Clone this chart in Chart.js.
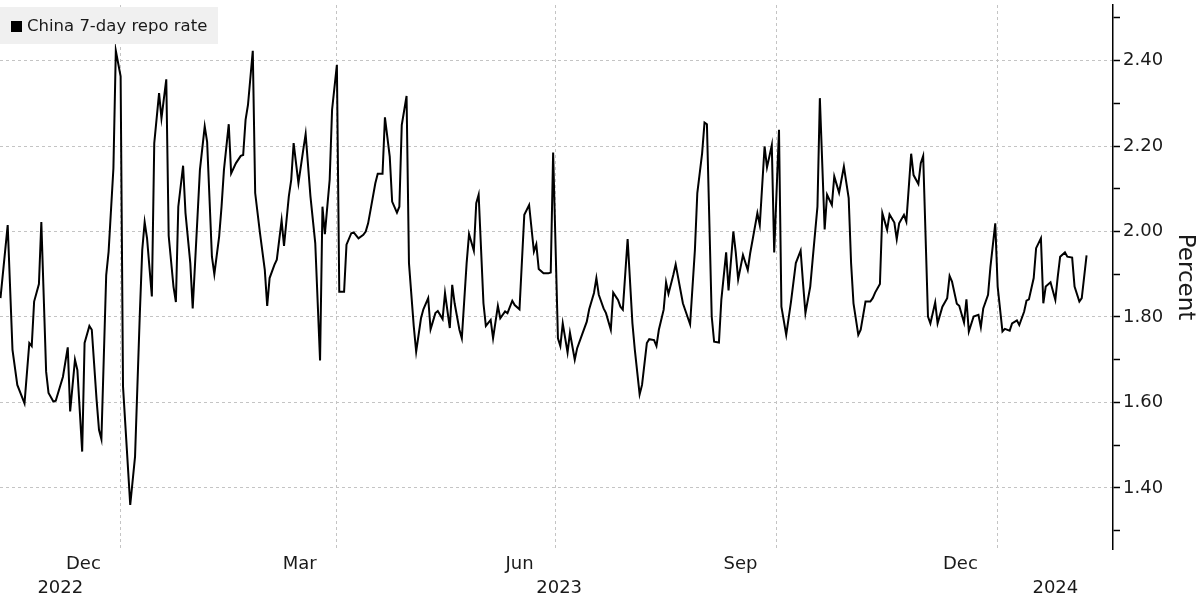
<!DOCTYPE html>
<html>
<head>
<meta charset="utf-8">
<script src="https://cdn.jsdelivr.net/npm/chart.js@4.4.1/dist/chart.umd.min.js"></script>
<style>
html,body{margin:0;padding:0;background:#fff;}
canvas{display:block;}
</style>
</head>
<body>
<canvas id="c" width="1200" height="601"></canvas>
<script>
// ---------------- DATA ----------------
const BASE_DATE = '2023-01-01';           // day offsets are counted from this date
const seriesName = 'China 7-day repo rate';
const axisTitle = 'Percent';

const dayOffsets = [
  -50,-47,-45,-43,-40,-38,-37,-36,-34,-33,-31,-30,-28,-27,-24,-22,-21,-19,-18,-16,
  -15,-13,-12,-10,-9,-8,-6,-5,-3,-2,0,1,4,6,8,9,10,11,13,14,
  16,17,19,20,22,23,24,26,27,29,30,32,33,35,36,38,39,41,42,43,
  45,46,48,50,51,52,53,55,56,58,60,61,62,64,65,67,68,70,71,72,
  74,76,77,79,81,83,84,85,87,88,90,91,93,94,96,97,99,101,102,103,
  104,106,107,109,110,112,113,115,116,117,119,120,122,123,125,126,128,129,131,132,
  134,135,137,138,139,141,142,144,145,147,148,149,151,152,154,155,157,158,160,161,
  163,164,166,168,170,172,173,174,176,178,179,180,182,183,184,186,187,189,190,192,
  194,195,197,198,199,201,202,204,205,207,208,209,211,213,214,216,217,219,220,222,
  223,224,226,227,228,230,231,234,237,239,240,242,243,244,246,247,249,250,252,253,
  255,256,257,259,261,262,263,265,266,268,269,271,272,274,275,277,279,281,283,284,
  285,287,288,290,291,293,294,296,297,299,301,303,304,305,307,308,310,312,313,314,
  316,317,319,320,322,323,324,326,327,329,330,332,333,334,336,337,339,340,342,344,
  345,346,348,349,351,352,353,355,357,358,359,361,362,364,365,367,368,370,371,373,
  374,376,377,378,380,381,383,384,385,387,389,390,391,393,394,396,397,399,400,402
];

const repoRate = [
  1.844,2.015,1.723,1.641,1.598,1.739,1.732,1.836,1.877,2.022,1.672,1.622,1.602,1.604,1.660,1.729,1.579,1.700,1.676,1.485,
  1.739,1.779,1.770,1.606,1.536,1.514,1.898,1.953,2.148,2.423,2.363,1.637,1.360,1.473,1.809,1.957,2.022,1.984,1.848,2.207,
  2.324,2.265,2.356,1.990,1.871,1.835,2.058,2.154,2.043,1.926,1.820,2.035,2.144,2.246,2.210,1.941,1.900,1.988,2.058,2.144,
  2.251,2.136,2.160,2.177,2.179,2.261,2.296,2.423,2.090,1.996,1.910,1.826,1.891,1.922,1.934,2.026,1.966,2.082,2.121,2.207,
  2.113,2.191,2.228,2.082,1.973,1.698,2.058,1.994,2.121,2.285,2.390,1.859,1.859,1.969,1.996,1.998,1.984,1.992,2.000,2.019,
  2.050,2.113,2.135,2.135,2.267,2.175,2.070,2.044,2.058,2.249,2.317,1.926,1.778,1.719,1.797,1.818,1.844,1.771,1.809,1.814,
  1.795,1.856,1.774,1.875,1.832,1.770,1.750,1.926,1.994,1.955,2.066,2.086,1.832,1.779,1.793,1.750,1.826,1.797,1.813,1.809,
  1.838,1.828,1.818,2.039,2.062,1.953,1.970,1.912,1.902,1.902,1.904,2.185,1.750,1.732,1.785,1.717,1.763,1.700,1.727,1.758,
  1.789,1.818,1.856,1.891,1.852,1.820,1.809,1.770,1.857,1.840,1.824,1.817,1.982,1.785,1.723,1.619,1.641,1.739,1.748,1.746,
  1.732,1.770,1.817,1.881,1.854,1.898,1.923,1.832,1.783,1.957,2.090,2.183,2.255,2.251,1.801,1.742,1.740,1.840,1.951,1.862,
  2.000,1.951,1.888,1.945,1.910,1.949,1.980,2.043,2.015,2.199,2.150,2.202,1.951,2.238,1.824,1.758,1.836,1.926,1.955,1.879,
  1.809,1.871,1.934,2.058,2.312,2.005,2.086,2.062,2.129,2.091,2.152,2.078,1.926,1.832,1.758,1.770,1.836,1.836,1.844,1.857,
  1.877,2.043,2.004,2.040,2.021,1.982,2.019,2.039,2.023,2.182,2.132,2.111,2.160,2.177,1.801,1.785,1.834,1.785,1.824,1.844,
  1.896,1.883,1.831,1.826,1.787,1.841,1.766,1.801,1.805,1.776,1.820,1.852,1.918,2.019,1.871,1.766,1.772,1.768,1.785,1.792,
  1.781,1.812,1.838,1.841,1.891,1.961,1.984,1.832,1.871,1.881,1.840,1.894,1.941,1.951,1.941,1.939,1.871,1.836,1.844,1.944
];

// x-axis: quarter boundaries (grid lines), month labels, year labels
const boundaryDays   = [0, 90, 181, 273, 365];          // 1 Jan, 1 Apr, 1 Jul, 1 Oct 2023, 1 Jan 2024
const monthLabels    = ['Dec', 'Mar', 'Jun', 'Sep', 'Dec'];
const monthLabelDays = [-15.5, 74.5, 166, 258, 349.5];  // mid-month
const yearLabels     = ['2022', '2023', '2024'];
const yearStartDays  = [-365, 0, 365];
const xMinDay = -50.2, xMaxDay = 413;

// y-axis
const yMin = 1.257, yMax = 2.530;
const yMajorTicks = [1.4, 1.6, 1.8, 2.0, 2.2, 2.4];
const yMinorTicks = [1.3, 1.5, 1.7, 1.9, 2.1, 2.3, 2.5];

// ---------------- BUILD ----------------
const xTickLabel = new Map();
boundaryDays.forEach(d => xTickLabel.set(d, ''));
monthLabelDays.forEach((d, i) => xTickLabel.set(d, monthLabels[i]));
yearStartDays.forEach((d, i) => {
  const a = Math.max(d, xMinDay), b = Math.min(d + 365, xMaxDay);
  xTickLabel.set((a + b) / 2, ['', yearLabels[i]]);
});
const xTickValues = [...xTickLabel.keys()].sort((a, b) => a - b);
const isBoundary = v => boundaryDays.some(b => Math.abs(b - v) < 1e-9);
const isMajorY = v => yMajorTicks.some(m => Math.abs(m - v) < 1e-6);
const yTickValues = [...yMajorTicks, ...yMinorTicks].sort((a, b) => a - b);

const points = dayOffsets.map((d, i) => ({ x: d, y: repoRate[i] }));
const GRID = '#c4c4c4';
const TXT = '#1a1a1a';
const FONT = 'DejaVu Sans';

const bgLegend = {
  id: 'bgLegend',
  beforeDraw(chart) {
    const ctx = chart.ctx;
    ctx.save();
    ctx.fillStyle = '#ffffff';
    ctx.fillRect(0, 0, chart.width, chart.height);
    ctx.fillStyle = '#f0f0f0';
    ctx.fillRect(0, 7, 218, 37);
    ctx.restore();
  },
  afterDatasetsDraw(chart) {
    const ctx = chart.ctx;
    ctx.save();
    ctx.fillStyle = '#f0f0f0';
    ctx.fillRect(0, 7, 218, 37);
    ctx.fillStyle = '#000';
    ctx.fillRect(11, 21, 11, 11);
    ctx.fillStyle = TXT;
    ctx.font = '16.5px "' + FONT + '"';
    ctx.textBaseline = 'middle';
    ctx.textAlign = 'left';
    ctx.fillText(seriesName, 27, 26.5);
    ctx.restore();
  }
};

new Chart(document.getElementById('c'), {
  type: 'line',
  data: {
    datasets: [{
      label: seriesName,
      data: points,
      borderColor: '#000',
      borderWidth: 2,
      pointRadius: 0,
      tension: 0,
      fill: false
    }]
  },
  options: {
    responsive: false,
    animation: false,
    layout: { padding: { top: 5, left: 0, right: 0, bottom: 0 } },
    plugins: { legend: { display: false }, tooltip: { enabled: false } },
    scales: {
      x: {
        type: 'linear',
        position: 'bottom',
        min: xMinDay,
        max: xMaxDay,
        afterBuildTicks: s => { s.ticks = xTickValues.map(v => ({ value: v })); },
        afterFit: s => { s.height = 52; s.paddingLeft = 0; s.paddingRight = 0; },
        ticks: {
          autoSkip: false, maxRotation: 0, minRotation: 0, padding: 4,
          color: TXT,
          font: { family: FONT, size: 18, lineHeight: 1.3 },
          callback: v => xTickLabel.has(v) ? xTickLabel.get(v) : ''
        },
        grid: {
          drawTicks: false,
          lineWidth: 1,
          color: ctx => (ctx.tick && isBoundary(ctx.tick.value)) ? GRID : 'rgba(0,0,0,0)'
        },
        border: { display: false, dash: [3, 3] }
      },
      y: {
        type: 'linear',
        position: 'right',
        min: yMin,
        max: yMax,
        afterBuildTicks: s => { s.ticks = yTickValues.map(v => ({ value: v })); },
        afterFit: s => { s.width = 87; s.paddingTop = 0; s.paddingBottom = 0; },
        ticks: {
          padding: 3,
          color: TXT,
          font: { family: FONT, size: 18 },
          callback: v => isMajorY(v) ? v.toFixed(2) : ''
        },
        grid: {
          drawTicks: true,
          tickLength: 7,
          tickColor: '#000',
          tickWidth: 1.5,
          lineWidth: 1,
          color: ctx => (ctx.tick && isMajorY(ctx.tick.value)) ? GRID : 'rgba(0,0,0,0)'
        },
        border: { display: true, color: '#000', width: 1.5, dash: [3, 3] },
        title: {
          display: true,
          text: axisTitle,
          color: TXT,
          font: { family: FONT, size: 23, lineHeight: 1.2 },
          padding: { top: 1, bottom: 0 }
        }
      }
    }
  },
  plugins: [bgLegend]
});
</script>
</body>
</html>
